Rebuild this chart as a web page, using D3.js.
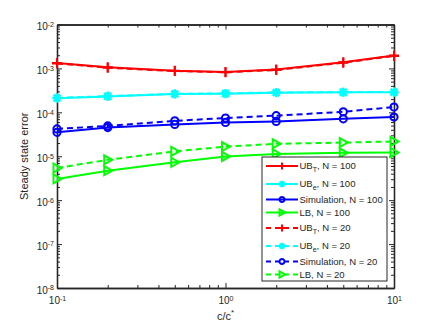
<!DOCTYPE html>
<html>
<head>
<meta charset="utf-8">
<style>
    body { margin: 0; background: #fff; }
    text { font-family: "Liberation Sans", Arial, sans-serif; fill: #262626; }
    .axis path, .axis line { stroke: #262626; }
</style>
<script src="https://cdnjs.cloudflare.com/ajax/libs/d3/7.8.5/d3.min.js"></script>
</head>
<body>
<svg width="436" height="331"></svg>
<script>
// data
var cRatio = [0.1, 0.2, 0.5, 1, 2, 5, 10];
var ubT100 = [1.33e-3, 1.06e-3, 8.9e-4, 8.3e-4, 9.4e-4, 1.38e-3, 1.96e-3];
var ubE100 = [2.1e-4, 2.3e-4, 2.6e-4, 2.66e-4, 2.8e-4, 2.85e-4, 2.85e-4];
var sim100 = [3.5e-5, 4.5e-5, 5.3e-5, 5.9e-5, 6.2e-5, 7.1e-5, 7.8e-5];
var lb100  = [3.05e-6, 4.7e-6, 7.3e-6, 9.9e-6, 1.13e-5, 1.2e-5, 1.22e-5];
var ubT20  = [1.3e-3, 1.04e-3, 8.7e-4, 8.2e-4, 9.2e-4, 1.35e-3, 1.93e-3];
var ubE20  = [2.13e-4, 2.34e-4, 2.64e-4, 2.7e-4, 2.84e-4, 2.88e-4, 2.9e-4];
var sim20  = [4.2e-5, 4.9e-5, 6.4e-5, 7.4e-5, 8.4e-5, 1.03e-4, 1.32e-4];
var lb20   = [5.4e-6, 8.3e-6, 1.29e-5, 1.66e-5, 1.92e-5, 2.05e-5, 2.17e-5];

var seriesNames = ["UB_T, N = 100", "UB_e, N = 100", "Simulation, N = 100", "LB, N = 100",
                   "UB_T, N = 20", "UB_e, N = 20", "Simulation, N = 20", "LB, N = 20"];
var seriesValues = [ubT100, ubE100, sim100, lb100, ubT20, ubE20, sim20, lb20];
var seriesColors = ["#ff0000", "#00ffff", "#0000ff", "#00ff00", "#ff0000", "#00ffff", "#0000ff", "#00ff00"];
var seriesMarkers = ["plus", "star", "circle", "tri", "plus", "star", "circle", "tri"];
var seriesDashed = [false, false, false, false, true, true, true, true];

var xTicks = [0.1, 1, 10];
var yTicks = [1e-8, 1e-7, 1e-6, 1e-5, 1e-4, 1e-3, 1e-2];

var svg = d3.select("svg"),
    pLeft = 57, pRight = 394, pTop = 24.5, pBottom = 288;

var x = d3.scaleLog().domain([0.1, 10]).range([pLeft, pRight]);
var y = d3.scaleLog().domain([1e-8, 1e-2]).range([pBottom, pTop]);

var xMinor = x.ticks().filter(function(d) { return xTicks.indexOf(d) < 0; });
var yMinor = y.ticks().filter(function(d) { return yTicks.indexOf(d) < 0; });

function expLabel(sel) {
    sel.each(function(d) {
        var t = d3.select(this).text("10");
        t.append("tspan")
         .attr("dy", "-0.45em")
         .attr("font-size", "7px")
         .text(Math.round(Math.log10(d)));
    });
}

// axes (ticks pointing inward, box on)
function drawAxis(axis, tr, labels) {
    var g = svg.append("g").attr("class", "axis").attr("transform", tr).call(axis);
    g.select(".domain").attr("stroke-width", 1.3);
    g.selectAll(".tick line").attr("stroke-width", 1);
    if (!labels) g.selectAll("text").remove();
    return g;
}

var gx = drawAxis(d3.axisBottom(x).tickValues(xTicks).tickSizeInner(-5).tickSizeOuter(0).tickPadding(9),
    "translate(0," + pBottom + ")", true);
gx.selectAll("text").attr("font-size", "10px").call(expLabel);
drawAxis(d3.axisBottom(x).tickValues(xMinor).tickSizeInner(-3).tickSizeOuter(0).tickFormat(""),
    "translate(0," + pBottom + ")", false);
drawAxis(d3.axisTop(x).tickValues(xTicks).tickSizeInner(-5).tickSizeOuter(0), "translate(0," + pTop + ")", false);
drawAxis(d3.axisTop(x).tickValues(xMinor).tickSizeInner(-3).tickSizeOuter(0), "translate(0," + pTop + ")", false);

var gy = drawAxis(d3.axisLeft(y).tickValues(yTicks).tickSizeInner(-5).tickSizeOuter(0).tickPadding(3),
    "translate(" + pLeft + ",0)", true);
gy.selectAll("text").attr("font-size", "10px").attr("dy", "0.5em").call(expLabel);
drawAxis(d3.axisLeft(y).tickValues(yMinor).tickSizeInner(-3).tickSizeOuter(0).tickFormat(""),
    "translate(" + pLeft + ",0)", false);
drawAxis(d3.axisRight(y).tickValues(yTicks).tickSizeInner(-5).tickSizeOuter(0), "translate(" + pRight + ",0)", false);
drawAxis(d3.axisRight(y).tickValues(yMinor).tickSizeInner(-3).tickSizeOuter(0), "translate(" + pRight + ",0)", false);

// axis labels
var xl = svg.append("text")
    .attr("x", (pLeft + pRight) / 2)
    .attr("y", 320)
    .attr("text-anchor", "middle")
    .attr("font-size", "11px")
    .text("c/c");
xl.append("tspan").attr("dy", "-0.6em").attr("font-size", "8px").text("*");

svg.append("text")
    .attr("transform", "translate(28," + (pTop + pBottom) / 2 + ") rotate(-90)")
    .attr("text-anchor", "middle")
    .attr("font-size", "11px")
    .text("Steady state error");

// markers
function drawMarker(g, type, color, s) {
    s = s || 1;
    if (type === "plus") {
        g.append("path").attr("d", "M-5,0H5M0,-5V5")
         .attr("stroke", color).attr("stroke-width", 2 / s).attr("fill", "none");
    } else if (type === "star") {
        g.append("path").attr("d", "M-4.5,0H4.5M0,-4.5V4.5M-3.3,-3.3L3.3,3.3M-3.3,3.3L3.3,-3.3")
         .attr("stroke", color).attr("stroke-width", 2.2 / s).attr("fill", "none");
    } else if (type === "circle") {
        g.append("circle").attr("r", 3.6)
         .attr("stroke", color).attr("stroke-width", 2 / s).attr("fill", "none");
    } else {
        g.append("path").attr("d", "M-3.5,-4.5L4.5,0L-3.5,4.5Z")
         .attr("stroke", color).attr("stroke-width", 2 / s).attr("fill", "none")
         .attr("stroke-linejoin", "miter");
    }
    g.attr("transform", g.attr("transform") + " scale(" + s + ")");
}

var line = d3.line()
    .x(function(d, i) { return x(cRatio[i]); })
    .y(function(d) { return y(d); });

seriesValues.forEach(function(vals, k) {
    svg.append("path")
       .datum(vals)
       .attr("d", line)
       .attr("fill", "none")
       .attr("stroke", seriesColors[k])
       .attr("stroke-width", 2)
       .attr("stroke-dasharray", seriesDashed[k] ? "6,4" : null);
    svg.selectAll(".m" + k)
       .data(vals)
       .enter().append("g")
       .attr("class", "m" + k)
       .attr("transform", function(d, i) { return "translate(" + x(cRatio[i]) + "," + y(d) + ")"; })
       .each(function() { drawMarker(d3.select(this), seriesMarkers[k], seriesColors[k], 1); });
});

// legend
var legX = 262, legY = 157, legW = 125;
var rowH = seriesNames.map(function(n) { return n.indexOf("_") >= 0 ? 18 : 13; });
var legH = d3.sum(rowH);

svg.append("rect")
   .attr("x", legX).attr("y", legY)
   .attr("width", legW).attr("height", legH)
   .attr("fill", "#fff").attr("stroke", "#262626").attr("stroke-width", 1);

var cy = legY;
seriesNames.forEach(function(name, k) {
    var yy = cy + rowH[k] / 2;
    cy += rowH[k];
    var g = svg.append("g").attr("transform", "translate(0," + yy + ")");
    g.append("line")
     .attr("x1", legX + 4).attr("x2", legX + 36)
     .attr("stroke", seriesColors[k]).attr("stroke-width", 2)
     .attr("stroke-dasharray", seriesDashed[k] ? "5,4" : null);
    var mg = g.append("g").attr("transform", "translate(" + (legX + 20) + ",0)");
    drawMarker(mg, seriesMarkers[k], seriesColors[k], 0.7);
    var t = g.append("text")
     .attr("x", legX + 37.5)
     .attr("y", 3.3)
     .attr("font-size", "9.5px");
    var parts = name.split("_");
    if (parts.length > 1) {
        t.append("tspan").text(parts[0]);
        t.append("tspan").attr("dy", 3).attr("font-size", "7px").text(parts[1].charAt(0));
        t.append("tspan").attr("dy", -3).text(parts[1].slice(1));
    } else {
        t.text(name);
    }
});
</script>
</body>
</html>
